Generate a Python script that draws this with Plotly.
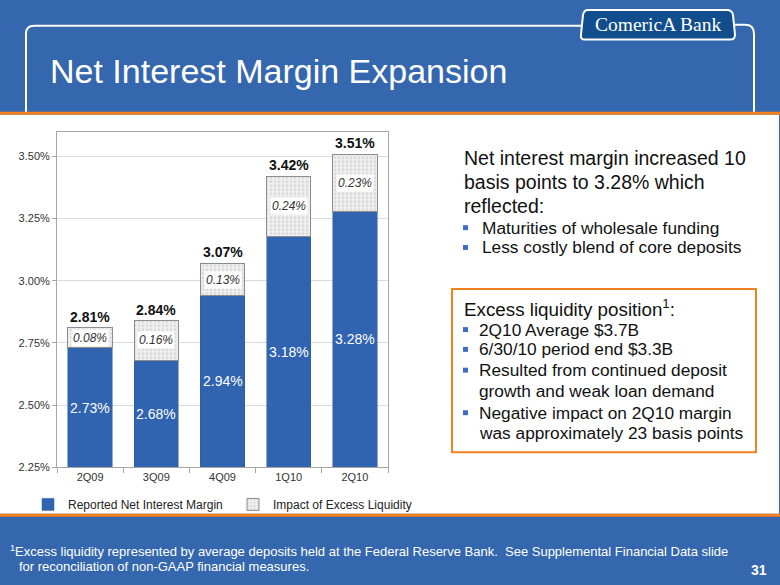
import plotly.graph_objects as go

W, H = 780, 585

categories = ["2Q09", "3Q09", "4Q09", "1Q10", "2Q10"]
reported_nim = [2.73, 2.68, 2.94, 3.18, 3.28]
excess_liquidity = [0.08, 0.16, 0.13, 0.24, 0.23]
total_nim = [2.81, 2.84, 3.07, 3.42, 3.51]
y_ticks = [2.25, 2.50, 2.75, 3.00, 3.25, 3.50]

FONT = "Arial, 'Liberation Sans', sans-serif"
SLIDE_BLUE = "#3467AE"
BAR_BLUE = "#3063B0"
ORANGE = "#F5801F"
Y_MIN, Y_MAX = y_ticks[0], 3.60


def px(x):
    return x / W


def py(y):
    return 1 - y / H


fig = go.Figure()
fig.add_trace(go.Bar(
    x=categories, y=reported_nim, name="Reported Net Interest Margin",
    marker=dict(color=BAR_BLUE, line=dict(color="#2A589E", width=0.5)),
    hoverinfo="skip",
))
fig.add_trace(go.Bar(
    x=categories, y=excess_liquidity, name="Impact of Excess Liquidity",
    marker=dict(color="#ECECEC", line=dict(color="#8C8C8C", width=1),
                pattern=dict(shape=".", fgcolor="#BEBEBE", bgcolor="#EEEEEE",
                             size=4, solidity=0.25)),
    hoverinfo="skip",
))

annotations = []
for c, r, e, t in zip(categories, reported_nim, excess_liquidity, total_nim):
    annotations.append(dict(
        x=c, y=(Y_MIN + r) / 2, xref="x", yref="y", text=f"{r:.2f}%",
        showarrow=False, font=dict(size=14, color="white", family=FONT)))
    annotations.append(dict(
        x=c, y=r + e / 2, xref="x", yref="y", text=f"<i>{e:.2f}%</i>",
        showarrow=False, bgcolor="white", borderpad=1,
        font=dict(size=12, color="#333333", family=FONT)))
    annotations.append(dict(
        x=c, y=t, xref="x", yref="y", text=f"<b>{t:.2f}%</b>",
        showarrow=False, yanchor="bottom", yshift=1,
        font=dict(size=14, color="#111111", family=FONT)))

# Title, logo, footer
annotations += [
    dict(x=px(48), y=py(72), xref="paper", yref="paper", xanchor="left", yanchor="middle",
         text="Net Interest Margin Expansion", showarrow=False,
         font=dict(size=34, color="white", family=FONT)),
    dict(x=px(658), y=py(25), xref="paper", yref="paper", xanchor="center", yanchor="middle",
         text="ComericA Bank", showarrow=False,
         font=dict(size=19.5, color="white", family="'Liberation Serif', 'DejaVu Serif', serif")),
    dict(x=px(8), y=py(557), xref="paper", yref="paper", xanchor="left", yanchor="middle",
         text="<sup>1</sup>Excess liquidity represented by average deposits held at the Federal Reserve Bank.  See Supplemental Financial Data slide",
         showarrow=False, font=dict(size=13, color="white", family=FONT)),
    dict(x=px(17), y=py(572), xref="paper", yref="paper", xanchor="left", yanchor="middle",
         text="for reconciliation of non-GAAP financial measures.",
         showarrow=False, font=dict(size=13, color="white", family=FONT)),
    dict(x=px(769), y=py(576), xref="paper", yref="paper", xanchor="right", yanchor="middle",
         text="<b>31</b>", showarrow=False, font=dict(size=14, color="white", family=FONT)),
]

# Right-hand text
HEAD, BUL = 19.5, 17.3
right_lines = [
    (462, 160, HEAD, "Net interest margin increased 10", False),
    (462, 184, HEAD, "basis points to 3.28% which", False),
    (462, 208, HEAD, "reflected:", False),
    (480, 230, BUL, "Maturities of wholesale funding", True),
    (480, 250, BUL, "Less costly blend of core deposits", True),
    (462, 311, 18.8, "Excess liquidity position<sup>1</sup>:", False),
    (477, 333, BUL, "2Q10 Average $3.7B", True),
    (477, 353, BUL, "6/30/10 period end $3.3B", True),
    (477, 374, BUL, "Resulted from continued deposit", True),
    (477, 395, BUL, "growth and weak loan demand", False),
    (477, 417, BUL, "Negative impact on 2Q10 margin", True),
    (477, 437, BUL, "was approximately 23 basis points", False),
]
shapes = [
    dict(type="rect", xref="paper", yref="paper", x0=px(0), x1=px(779), y0=py(519), y1=py(116),
         fillcolor="white", line=dict(width=0), layer="below"),
    dict(type="rect", xref="paper", yref="paper", x0=0, x1=px(780), y0=py(116), y1=py(113),
         fillcolor=ORANGE, line=dict(width=0), layer="below"),
    dict(type="rect", xref="paper", yref="paper", x0=0, x1=px(780), y0=py(522), y1=py(519),
         fillcolor=ORANGE, line=dict(width=0), layer="below"),
    dict(type="rect", xref="paper", yref="paper", x0=px(452), x1=px(756), y0=py(457), y1=py(292),
         line=dict(color=ORANGE, width=2), layer="above"),
    dict(type="path", xref="paper", yref="paper", layer="below",
         path=(f"M {px(26)},{py(113)} L {px(26)},{py(34)} Q {px(26)},{py(26)} {px(34)},{py(26)} "
               f"L {px(584)},{py(26)} M {px(733)},{py(25)} L {px(745)},{py(25)} "
               f"Q {px(754)},{py(25)} {px(754)},{py(34)} L {px(754)},{py(113)}"),
         line=dict(color="white", width=2)),
    dict(type="path", xref="paper", yref="paper", layer="below",
         path=(f"M {px(588)},{py(10)} L {px(727)},{py(10)} Q {px(732)},{py(10)} {px(733)},{py(15)} "
               f"L {px(735)},{py(35)} Q {px(735)},{py(40)} {px(730)},{py(40)} L {px(585)},{py(40)} "
               f"Q {px(580)},{py(40)} {px(581)},{py(35)} L {px(583)},{py(15)} Q {px(584)},{py(10)} {px(588)},{py(10)} Z"),
         fillcolor="#124D8E", line=dict(color="white", width=2)),
]
for x, y, size, txt, bullet in right_lines:
    annotations.append(dict(
        x=px(x), y=py(y), xref="paper", yref="paper", xanchor="left", yanchor="middle",
        text=txt, showarrow=False, font=dict(size=size, color="#111111", family=FONT)))
    if bullet:
        shapes.append(dict(type="rect", xref="paper", yref="paper",
                           x0=px(463), x1=px(468), y0=py(y + 2.5), y1=py(y - 2.5),
                           fillcolor="#3C6FC4", line=dict(width=0), layer="above"))

fig.update_layout(
    width=W, height=H, margin=dict(l=0, r=0, t=0, b=0),
    paper_bgcolor=SLIDE_BLUE, plot_bgcolor="white",
    barmode="stack", bargap=0.33,
    font=dict(family=FONT, color="#222222"),
    showlegend=True,
    legend=dict(orientation="h", x=px(28), y=py(495), xanchor="left", yanchor="top",
                font=dict(size=12, color="#222222", family=FONT),
                entrywidth=160, entrywidthmode="pixels", bgcolor="rgba(0,0,0,0)",
                traceorder="normal"),
    xaxis=dict(domain=[px(57), px(388)], showline=True, mirror=True, linecolor="#A6A6A6",
               linewidth=1, ticks="outside", tickson="boundaries", ticklen=5,
               tickcolor="#A6A6A6", tickfont=dict(size=11, color="#333333", family=FONT),
               fixedrange=True),
    yaxis=dict(domain=[py(472), py(133)], range=[Y_MIN, Y_MAX], tickvals=y_ticks,
               ticktext=[f"{v:.2f}%" for v in y_ticks],
               showline=True, mirror=True, linecolor="#A6A6A6", linewidth=1,
               ticks="outside", ticklen=4, tickcolor="#A6A6A6",
               showgrid=True, gridcolor="#DADADA", gridwidth=1, zeroline=False,
               tickfont=dict(size=11, color="#333333", family=FONT), fixedrange=True),
    annotations=annotations, shapes=shapes,
)

fig.write_html("out.html", config={"displayModeBar": False},
               post_script="document.body.style.margin='0px';document.body.style.overflow='hidden';")
